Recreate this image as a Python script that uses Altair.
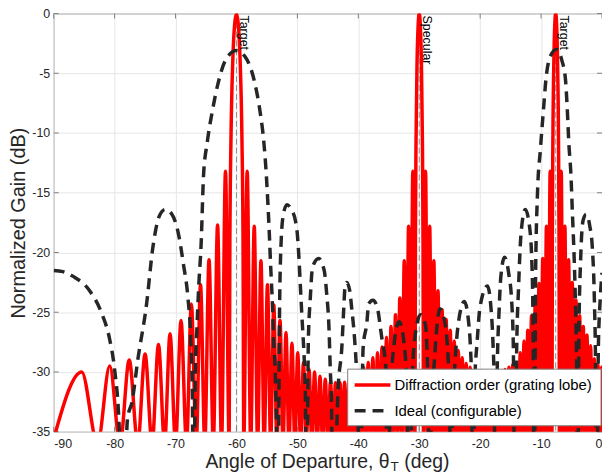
import altair as alt
import pandas as pd

FONT = "Liberation Sans"
NULL_DB = -36.0  # depth of the red pattern nulls (below the visible axis)

# ---------------- Diffraction order (grating lobe): lobe peaks / shape points ----------------
red_peak_deg = [
    -90.0, -85.4, -80.8, -77.6, -75.0, -72.8, -70.9, -69.1, -67.4, -65.9, -64.5, -63.1, -61.8,
    -61.08, -60.9, -60.6, -60.3, -60.0, -59.7, -59.4, -59.1, -58.92,
    -58.24, -57.08, -55.98, -54.91, -53.87, -52.85, -51.87, -50.89, -49.94, -49.0, -48.08,
    -47.18, -46.29, -45.42, -44.56, -43.75, -43.0, -42.25, -41.5, -40.71, -39.92, -39.14,
    -38.37, -37.61, -36.85, -36.11, -35.37, -34.63, -33.90, -33.18, -32.46, -31.75, -31.05,
    -30.625, -30.52, -30.35, -30.17, -30.0, -29.83, -29.65, -29.48, -29.375,
    -28.96, -28.28, -27.6, -26.92, -26.25, -25.58, -24.91, -24.25, -23.59, -22.94, -22.29,
    -21.64, -20.99, -20.35, -19.71, -19.07, -18.43, -17.79, -17.16, -16.53, -15.91, -15.28,
    -14.66, -14.04, -13.42, -12.80, -12.18, -11.57, -10.96, -10.34, -9.73, -9.12, -8.51,
    -8.15, -8.06, -7.9, -7.75, -7.6, -7.45, -7.3, -7.14, -7.05,
    -6.69, -6.09, -5.48, -4.88, -4.28, -3.67, -3.07, -2.47, -1.87, -1.26, -0.66, -0.06, 0.0,
]
red_peak_db = [
    -35.6, -30.0, -29.5, -29.0, -28.5, -27.7, -26.8, -25.7, -24.3, -22.7, -20.6, -17.7, -13.2,
    -19.2, -10.5, -3.9, -0.9, 0.0, -0.9, -3.9, -10.5, -19.2,
    -13.2, -17.8, -20.7, -22.7, -24.4, -25.7, -26.7, -27.6, -28.4, -29.2, -29.8,
    -30.0, -30.35, -30.6, -30.8, -30.9, -30.9, -30.85, -30.7, -30.4, -30.0, -29.6,
    -29.2, -28.8, -28.4, -27.9, -27.1, -26.2, -25.2, -23.8, -20.7, -17.8, -13.2,
    -19.2, -10.5, -3.9, -0.9, 0.0, -0.9, -3.9, -10.5, -19.2,
    -13.2, -17.8, -20.7, -23.2, -24.8, -25.6, -26.5, -27.4, -28.2, -28.8, -29.3,
    -29.6, -29.9, -30.2, -30.4, -30.5, -30.5, -30.4, -30.2, -30.0, -29.8, -29.6,
    -29.4, -29.3, -28.4, -27.4, -26.5, -25.3, -24.2, -22.6, -20.5, -17.8, -13.2,
    -19.2, -10.5, -3.9, -0.9, 0.0, -0.9, -3.9, -10.5, -19.2,
    -13.2, -17.8, -20.6, -22.5, -24.0, -25.3, -26.2, -26.9, -27.8, -28.9, -29.4, -29.6, -29.7,
]
red_null_deg = [
    -82.8, -79.1, -76.2, -73.85, -71.8, -70.0, -68.2, -66.6, -65.2, -63.8, -62.45, -61.2,
    -58.8, -57.66, -56.53, -55.45, -54.39, -53.36, -52.36, -51.38, -50.42, -49.47, -48.54,
    -47.63, -46.74, -45.86, -44.99, -44.16, -43.38, -42.63, -41.88, -41.1, -40.32, -39.53,
    -38.76, -37.99, -37.23, -36.48, -35.74, -35.0, -34.27, -33.54, -32.82, -32.11, -31.4, -30.7,
    -29.3, -28.62, -27.94, -27.26, -26.59, -25.92, -25.25, -24.58, -23.92, -23.27, -22.62,
    -21.97, -21.32, -20.67, -20.03, -19.39, -18.75, -18.11, -17.48, -16.85, -16.22, -15.6,
    -14.97, -14.35, -13.73, -13.11, -12.49, -11.88, -11.27, -10.65, -10.04, -9.43, -8.82, -8.21,
    -6.99, -6.39, -5.79, -5.18, -4.58, -3.98, -3.37, -2.77, -2.17, -1.57, -0.96, -0.36,
]

# ---------------- Ideal (configurable) ----------------
black_deg = [
    -90.0, -88.5, -86.8, -84.1, -82.2, -80.8, -80.0, -79.3, -78.6, -77.9, -77.1, -76.2, -74.8,
    -73.7, -72.7, -71.7, -70.6, -69.5, -68.7, -68.0, -67.5, -67.25, -67.05, -66.75, -66.5,
    -66.2, -65.8, -65.4, -64.8, -63.9, -63.0, -61.8, -60.0, -58.6, -57.0, -56.1, -55.5, -55.1,
    -54.8, -54.6, -54.4, -54.15, -53.9, -53.65, -53.45, -53.2, -52.95, -52.7, -52.3, -51.7,
    -51.0, -50.3, -50.0, -49.75, -49.5, -49.25, -48.9, -48.7, -48.5, -48.2, -47.9, -47.5,
    -46.5, -45.6, -45.2, -44.8, -44.6, -44.4, -44.2, -43.3, -42.7, -42.4, -42.2, -41.9,
    -41.4, -41.1, -40.6, -40.3, -40.05, -39.8, -39.2, -38.6, -38.3, -37.6, -36.8, -36.4,
    -36.1, -35.5, -35.2, -34.8, -34.3, -33.3, -32.4, -32.0, -31.6, -31.2, -30.8, -29.8,
    -29.0, -28.7, -28.5, -28.3, -28.0, -27.5, -27.2, -26.6, -25.9, -25.5, -25.2, -25.0,
    -24.8, -24.5, -24.1, -23.6, -22.6, -21.9, -21.6, -21.4, -21.2, -20.9, -20.5, -20.0,
    -18.8, -18.2, -17.9, -17.7, -17.5, -17.2, -16.9, -16.6, -16.0, -15.3, -14.8, -14.55,
    -14.3, -14.0, -13.7, -13.3, -12.6, -11.9, -11.5, -11.3, -11.15, -10.9, -10.6, -10.1,
    -9.6, -9.2, -8.4, -7.5, -6.6, -6.0, -5.7, -5.45, -5.1, -4.85, -4.6, -4.35, -4.15, -4.0,
    -3.8, -3.5, -3.1, -2.6, -2.0, -1.6, -1.25, -1.05, -0.9, -0.6, -0.3, 0.0,
]
black_db = [
    -21.5, -21.6, -22.0, -23.2, -25.0, -27.3, -29.8, -34.0, -45.0, -34.0, -32.4, -29.0, -24.5,
    -19.5, -17.0, -16.4, -16.8, -18.5, -21.0, -23.6, -27.3, -31.5, -45.0, -30.0, -26.5,
    -22.9, -19.3, -13.5, -10.8, -8.0, -5.8, -3.9, -3.1, -3.6, -5.8, -8.3, -10.8, -13.5,
    -16.3, -18.5, -21.0, -23.7, -27.3, -29.8, -34.0, -45.0, -26.0, -19.5, -16.8, -16.0,
    -16.4, -17.4, -18.5, -20.4, -22.9, -25.4, -28.7, -31.5, -45.0, -27.3, -24.0, -21.2,
    -20.5, -21.5, -23.4, -26.5, -29.8, -32.6, -45.0, -31.2, -27.9, -24.8, -23.0, -22.5,
    -23.2, -24.6, -27.3, -29.8, -33.0, -45.0, -27.9, -25.9, -24.3, -24.0, -24.8, -26.2,
    -27.3, -29.5, -45.0, -33.0, -28.5, -25.8, -28.0, -32.0, -45.0, -32.0, -27.5, -25.2,
    -26.0, -28.5, -33.0, -45.0, -33.0, -29.0, -26.8, -24.7, -25.6, -27.0, -29.5, -33.0,
    -45.0, -33.0, -29.0, -26.0, -24.1, -25.8, -27.9, -31.0, -45.0, -31.0, -27.5, -24.5,
    -22.8, -24.8, -27.5, -31.0, -45.0, -30.0, -25.0, -22.0, -20.4, -21.8, -24.3, -28.0,
    -45.0, -28.0, -23.0, -18.5, -16.4, -17.8, -21.0, -27.0, -45.0, -22.0, -15.2, -11.3,
    -8.0, -5.5, -3.5, -3.0, -3.9, -5.5, -8.0, -10.8, -13.5, -16.8, -20.0, -24.5, -30.0, -45.0,
    -27.0, -20.5, -17.3, -16.8, -17.8, -19.5, -24.0, -30.0, -45.0, -28.0, -24.0, -21.7,
]

marker_deg = [-60.0, -30.0, -7.6]
marker_text = ["Target", "Specular", "Target"]

x_ticks = list(range(-90, 1, 10))
y_ticks = list(range(-35, 1, 5))

legend_labels = ["Diffraction order (grating lobe)", "Ideal (configurable)"]
legend_colors = ["#ff0000", "#262626"]

red_df = pd.DataFrame(
    {"deg": red_peak_deg + red_null_deg,
     "db": red_peak_db + [NULL_DB] * len(red_null_deg)}
).sort_values("deg")
blk_df = pd.DataFrame({"deg": black_deg, "db": black_db})
mk_df = pd.DataFrame({"deg": marker_deg, "label": marker_text})
xt_df = pd.DataFrame({"v": x_ticks})
yt_df = pd.DataFrame({"v": y_ticks})
one = pd.DataFrame({"k": [0]})

W, H = 552, 421
FRAME = "#7f7f7f"
LW = 3.5
xs = alt.Scale(domain=[-90, 0], nice=False, zero=False)
ys = alt.Scale(domain=[-35, 0], nice=False, zero=False)

x_axis = alt.Axis(values=x_ticks, title=None, grid=True, labelFont=FONT, labelFontSize=12.5,
                  labelColor="#262626", domain=False, ticks=False, labelPadding=6,
                  labelExpr="'' + datum.value")
y_axis = alt.Axis(values=y_ticks, title="Normalized Gain (dB)", grid=True, labelFont=FONT,
                  labelFontSize=12.5, labelColor="#262626", domain=False, ticks=False,
                  labelPadding=4, labelExpr="'' + datum.value",
                  titleFont=FONT, titleFontSize=20, titleFontWeight="normal",
                  titleColor="#262626", titlePadding=3)

markers = alt.Chart(mk_df).mark_rule(color="#8c8c8c", strokeWidth=1, strokeDash=[6, 3]).encode(
    x=alt.X("deg:Q", scale=xs, axis=x_axis),
    y=alt.value(0), y2=alt.value(H),
)
marker_labels = alt.Chart(mk_df).mark_text(
    angle=90, align="left", baseline="alphabetic", font=FONT, fontSize=12.5,
    color="#000000", dx=2, dy=-4,
).encode(x=alt.X("deg:Q", scale=xs), y=alt.value(0), text="label:N")

# inward ticks on all four sides (MATLAB box style)
tick_style = dict(color=FRAME, strokeWidth=1)
xt_bot = alt.Chart(xt_df).mark_rule(**tick_style).encode(
    x=alt.X("v:Q", scale=xs), y=alt.value(H), y2=alt.value(H - 5))
xt_top = alt.Chart(xt_df).mark_rule(**tick_style).encode(
    x=alt.X("v:Q", scale=xs), y=alt.value(0), y2=alt.value(5))
yt_left = alt.Chart(yt_df).mark_rule(**tick_style).encode(
    y=alt.Y("v:Q", scale=ys), x=alt.value(0), x2=alt.value(5))
yt_right = alt.Chart(yt_df).mark_rule(**tick_style).encode(
    y=alt.Y("v:Q", scale=ys), x=alt.value(W), x2=alt.value(W - 5))

red_line = alt.Chart(red_df).mark_line(
    interpolate="monotone", clip=True, strokeWidth=LW, color=legend_colors[0]
).encode(
    x=alt.X("deg:Q", scale=xs, axis=x_axis),
    y=alt.Y("db:Q", scale=ys, axis=y_axis),
    order="deg:Q",
)
blk_line = alt.Chart(blk_df).mark_line(
    interpolate="monotone", clip=True, strokeWidth=LW, color=legend_colors[1], strokeDash=[11, 7]
).encode(
    x=alt.X("deg:Q", scale=xs),
    y=alt.Y("db:Q", scale=ys),
    order="deg:Q",
)

# legend box (south-east, inside the axes)
LX0, LX1, LY0, LY1 = 296, 551, 358, 415
leg_box = alt.Chart(one).mark_rect(fill="white", stroke=FRAME, strokeWidth=1).encode(
    x=alt.value(LX0), x2=alt.value(LX1), y=alt.value(LY0), y2=alt.value(LY1))
leg_red = alt.Chart(one).mark_rule(color=legend_colors[0], strokeWidth=LW).encode(
    x=alt.value(LX0 + 7), x2=alt.value(LX0 + 43), y=alt.value(LY0 + 16))
leg_blk = alt.Chart(one).mark_rule(color=legend_colors[1], strokeWidth=LW,
                                   strokeDash=[11, 7]).encode(
    x=alt.value(LX0 + 7), x2=alt.value(LX0 + 43), y=alt.value(LY0 + 42))
leg_t1 = alt.Chart(one).mark_text(align="left", baseline="middle", font=FONT, fontSize=15,
                                  color="#000000").encode(
    x=alt.value(LX0 + 47), y=alt.value(LY0 + 16), text=alt.value(legend_labels[0]))
leg_t2 = alt.Chart(one).mark_text(align="left", baseline="middle", font=FONT, fontSize=15,
                                  color="#000000").encode(
    x=alt.value(LX0 + 47), y=alt.value(LY0 + 42), text=alt.value(legend_labels[1]))

TX = 338  # x (plot coords) where the theta ends and the subscript starts
tx = dict(font=FONT, fontSize=19.5, color="#262626", baseline="alphabetic")
title_a = alt.Chart(one).mark_text(align="right", **tx).encode(
    x=alt.value(TX), y=alt.value(H + 37), text=alt.value("Angle of Departure, θ"))
title_b = alt.Chart(one).mark_text(align="left", font=FONT, fontSize=13.5, color="#262626",
                                   baseline="alphabetic").encode(
    x=alt.value(TX + 1), y=alt.value(H + 40), text=alt.value("T"))
title_c = alt.Chart(one).mark_text(align="left", **tx).encode(
    x=alt.value(TX + 15), y=alt.value(H + 37), text=alt.value("(deg)"))

chart = alt.layer(
    markers, xt_bot, xt_top, yt_left, yt_right, red_line, blk_line, marker_labels,
    leg_box, leg_red, leg_blk, leg_t1, leg_t2, title_a, title_b, title_c
).properties(
    width=W, height=H,
    autosize=alt.AutoSizeParams(type="none"),
    padding={"left": 46, "top": 4, "right": 0, "bottom": 41},
).configure_view(stroke=FRAME, strokeWidth=1).configure_axis(
    gridColor="#e6e6e6", gridWidth=1
)

chart.save("out.html", embed_options={"renderer": "svg", "actions": False})
